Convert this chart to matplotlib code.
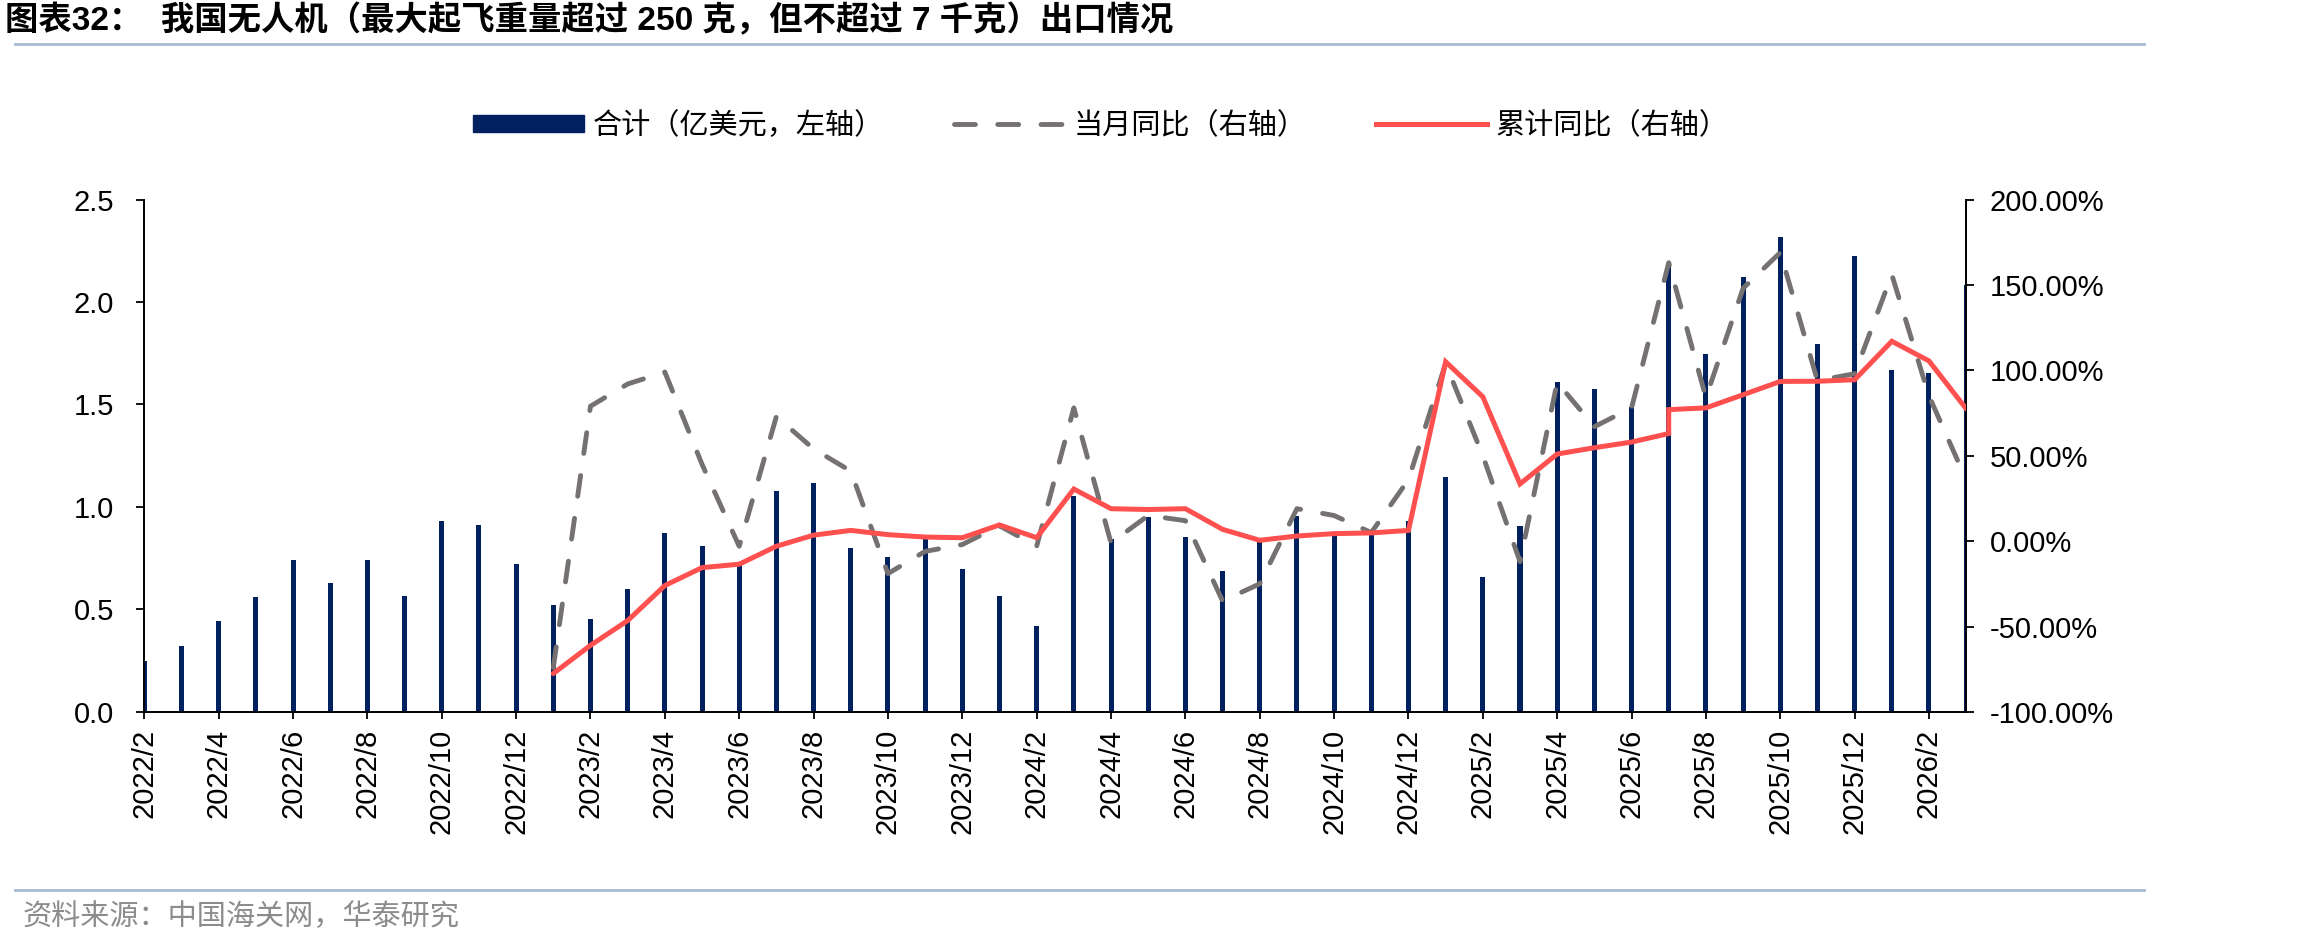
import matplotlib
matplotlib.use('Agg')
import matplotlib.pyplot as plt
from matplotlib.lines import Line2D
from matplotlib.patches import Patch
from matplotlib.ticker import FuncFormatter
import numpy as np

plt.rcParams['font.family'] = ['Liberation Sans', 'Noto Sans CJK SC', 'DejaVu Sans']

# Months 2022/2 .. 2026/3
months = ['2022/2', '2022/3', '2022/4', '2022/5', '2022/6', '2022/7', '2022/8',
          '2022/9', '2022/10', '2022/11', '2022/12',
          '2023/1', '2023/2', '2023/3', '2023/4', '2023/5', '2023/6', '2023/7',
          '2023/8', '2023/9', '2023/10', '2023/11', '2023/12',
          '2024/1', '2024/2', '2024/3', '2024/4', '2024/5', '2024/6', '2024/7',
          '2024/8', '2024/9', '2024/10', '2024/11', '2024/12',
          '2025/1', '2025/2', '2025/3', '2025/4', '2025/5', '2025/6', '2025/7',
          '2025/8', '2025/9', '2025/10', '2025/11', '2025/12',
          '2026/1', '2026/2', '2026/3']

# 合计（亿美元）
export_value = [0.25, 0.32, 0.445, 0.56, 0.74, 0.63, 0.74, 0.565, 0.93, 0.91, 0.72,
                0.52, 0.455, 0.60, 0.875, 0.81, 0.72, 1.08, 1.115, 0.80, 0.755, 0.845, 0.695,
                0.567, 0.42, 1.055, 0.843, 0.953, 0.855, 0.686, 0.83, 0.957, 0.86, 0.865, 0.93,
                1.146, 0.656, 0.905, 1.612, 1.578, 1.49, 2.17, 1.748, 2.12, 2.315, 1.797, 2.226,
                1.666, 1.652, 2.085]

# 当月同比 (%), from 2023/1
yoy_months = months[11:]
yoy_month = [-74, 79, 92, 99, 45, -3, 73, 54, 41, -19, -6, -2,
             9, -3, 78, -1, 15, 12, -35, -25, 19, 15, 5, 36,
             104, 50, -12, 93, 67, 78, 163, 84, 148, 169, 94, 98,
             156, 85, 36]

# 累计同比 (%), from 2023/1; 2025/7 appears twice (step in the source chart)
cum_labels = months[11:42] + months[41:]
cum_yoy = [-77.5, -61, -46.5, -26, -15.5, -13.5, -3, 3.5, 6.3, 3.8, 2.4, 2,
           9.5, 2, 30.5, 19, 18.5, 19, 6.9, 0.5, 3, 4.4, 4.8, 6.3,
           105, 84.5, 33.5, 51, 54.7, 58, 63,
           77, 78, 85.7, 93.5, 93.6, 94.5, 117, 105.5, 77.5]

navy = '#002060'
gray = '#767171'
red = '#FF5050'
rule = '#A7BBD3'

fig = plt.figure(figsize=(22.98, 9.46), dpi=100)
ax = fig.add_axes([0.0628, 0.2474, 0.7928, 0.5417])
ax2 = ax.twinx()

x = np.arange(len(months))
ax.bar(x, export_value, width=0.135, color=navy, zorder=2)

dash = (4.3, 4.6)
yoy_x = [months.index(m) for m in yoy_months]
ax2.plot(yoy_x, yoy_month, color=gray, lw=3.5, dashes=dash,
         dash_capstyle='round', zorder=3)
cum_x = [months.index(m) for m in cum_labels]
ax2.plot(cum_x, cum_yoy, color=red, lw=3.6, solid_capstyle='round',
         solid_joinstyle='miter', zorder=4)

ax.set_xlim(0, len(months) - 1)
ax.set_ylim(0, 2.5)
ax.set_yticks(np.arange(0, 2.51, 0.5))
ax.yaxis.set_major_formatter(FuncFormatter(lambda v, p: f'{v:.1f}'))
ax2.set_ylim(-100, 200)
ax2.set_yticks(np.arange(-100, 201, 50))
ax2.yaxis.set_major_formatter(FuncFormatter(lambda v, p: f'{v:.2f}%'))

ax.set_xticks(x[::2])
ax.set_xticklabels(months[::2], rotation=90)

for a in (ax, ax2):
    a.spines['top'].set_visible(False)
    for s in ('left', 'right', 'bottom'):
        a.spines[s].set_linewidth(1.3)
        a.spines[s].set_color('black')

ax.tick_params(axis='x', direction='out', length=5, width=1.3, pad=7, labelsize=21)
ax.tick_params(axis='y', direction='out', length=6, width=1.3, pad=16, labelsize=21)
ax2.tick_params(axis='y', direction='out', length=6, width=1.3, pad=11, labelsize=21)
ax.set_zorder(1)
ax2.set_zorder(2)

handles = [Patch(facecolor=navy, edgecolor=navy),
           Line2D([], [], color=gray, lw=3.5, dashes=dash, dash_capstyle='round'),
           Line2D([], [], color=red, lw=3.6)]
labels = ['合计（亿美元，左轴）', '当月同比（右轴）', '累计同比（右轴）']
fig.legend(handles, labels, loc='center', bbox_to_anchor=(0.479, 0.867), ncol=3,
           frameon=False, handlelength=3.8, handleheight=0.55,
           handletextpad=0.3, columnspacing=2.4,
           prop={'family': ['Noto Sans CJK SC', 'DejaVu Sans'], 'size': 21})

fig.text(0.002, 0.978, '图表32：  我国无人机（最大起飞重量超过 250 克，但不超过 7 千克）出口情况',
         fontsize=24, fontweight='bold', ha='left', va='center',
         family=['Liberation Sans', 'Noto Sans CJK SC', 'DejaVu Sans'])
fig.add_artist(Line2D([0.0065, 0.933], [0.953, 0.953], transform=fig.transFigure,
                      color=rule, lw=2))
fig.add_artist(Line2D([0.0065, 0.933], [0.059, 0.059], transform=fig.transFigure,
                      color=rule, lw=2))
fig.text(0.0096, 0.031, '资料来源：中国海关网，华泰研究', fontsize=21, color='#8C8C8C',
         ha='left', va='center', family=['Noto Sans CJK SC', 'DejaVu Sans'])

fig.savefig('out.png', dpi=100)
